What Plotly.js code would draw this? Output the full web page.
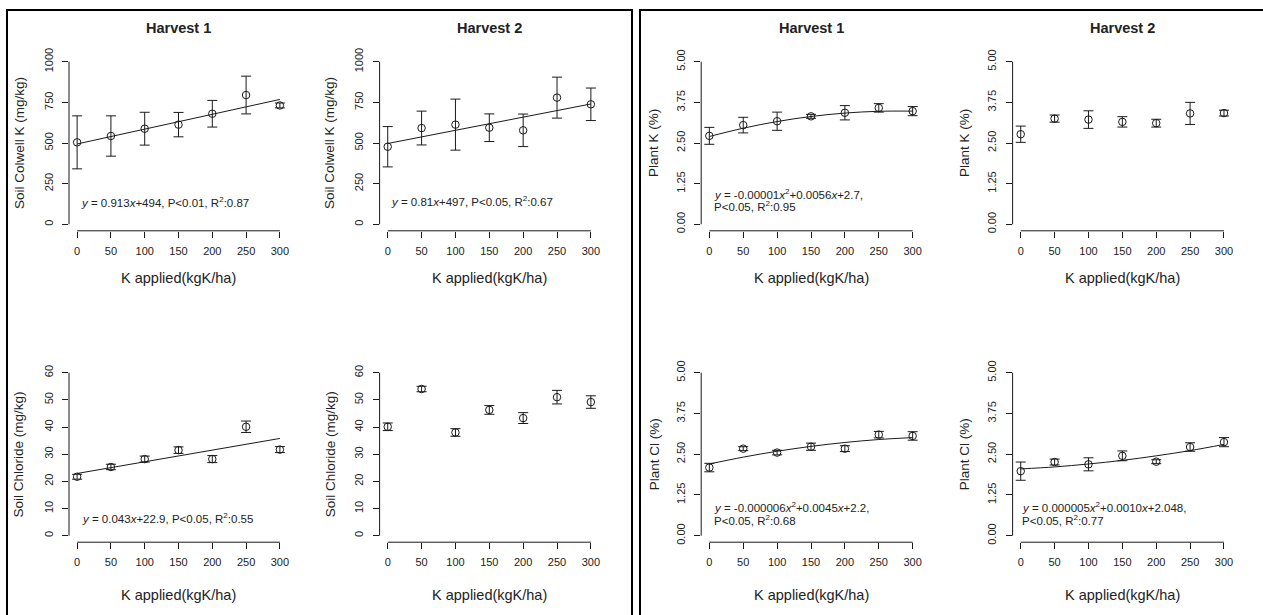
<!DOCTYPE html>
<html>
<head>
<meta charset="utf-8">
<script src="https://cdn.plot.ly/plotly-3.0.1.min.js"></script>
<style>html,body{margin:0;padding:0;background:#fff;}#chart{width:1263px;height:615px;}</style>
</head>
<body>
<div id="chart"></div>
<script>
// ---- data ----
var kApplied = [0, 50, 100, 150, 200, 250, 300];
var fitEnds = [0, 300];

var colwellH1 = [504, 543, 588, 613, 680, 795, 731];
var colwellH1Err = [163, 124, 101, 75, 82, 116, 15];
var colwellH2 = [477, 592, 613, 594, 578, 779, 738];
var colwellH2Err = [124, 104, 157, 85, 100, 126, 100];

var plantKH1 = [2.72, 3.05, 3.17, 3.32, 3.43, 3.58, 3.48];
var plantKH1Err = [0.26, 0.24, 0.28, 0.06, 0.22, 0.13, 0.14];
var plantKH2 = [2.77, 3.25, 3.22, 3.15, 3.11, 3.41, 3.42];
var plantKH2Err = [0.25, 0.11, 0.27, 0.16, 0.12, 0.34, 0.09];

var chlorideH1 = [21.7, 25.3, 28.2, 31.5, 28.2, 40.1, 31.7];
var chlorideH1Err = [0.9, 1.0, 1.1, 1.2, 1.3, 2.1, 1.1];
var chlorideH2 = [40.1, 54.0, 38.0, 46.3, 43.3, 51.0, 49.2];
var chlorideH2Err = [1.4, 1.0, 1.4, 1.6, 2.0, 2.5, 2.3];

var plantClH1 = [2.09, 2.67, 2.55, 2.73, 2.67, 3.10, 3.06];
var plantClH1Err = [0.13, 0.06, 0.07, 0.11, 0.09, 0.10, 0.13];
var plantClH2 = [1.98, 2.26, 2.19, 2.45, 2.27, 2.72, 2.87];
var plantClH2Err = [0.28, 0.09, 0.20, 0.15, 0.06, 0.13, 0.14];

// fitted lines as drawn in the picture
var fitColwellH1 = [494, 768];
var fitColwellH2 = [497, 740];
var fitChlorideH1 = [22.9, 35.8];
var fitPlantKH1 = [2.70, 2.955, 3.16, 3.315, 3.42, 3.475, 3.48];
var fitPlantClH1 = [2.20, 2.41, 2.59, 2.74, 2.86, 2.95, 3.01];
var fitPlantClH2 = [2.048, 2.11, 2.20, 2.31, 2.45, 2.61, 2.80];

var xTicks = [0, 50, 100, 150, 200, 250, 300];
var colwellTicks = [0, 250, 500, 750, 1000];
var pctTicks = [0, 1.25, 2.5, 3.75, 5];
var pctTickText = ["0.00", "1.25", "2.50", "3.75", "5.00"];
var chlorideTicks = [0, 10, 20, 30, 40, 50, 60];

var harvestTitles = ["Harvest 1", "Harvest 2", "Harvest 1", "Harvest 2"];
var yTitles = ["Soil Colwell K (mg/kg)", "Soil Colwell K (mg/kg)", "Plant K (%)", "Plant K (%)",
               "Soil Chloride (mg/kg)", "Soil Chloride (mg/kg)", "Plant Cl (%)", "Plant Cl (%)"];
var xTitle = "K applied(kgK/ha)";
var equations = [
  ["<i>y</i> = 0.913<i>x</i>+494, P<0.01, R<sup>2</sup>:0.87"],
  ["<i>y</i> = 0.81<i>x</i>+497, P<0.05, R<sup>2</sup>:0.67"],
  ["<i>y</i> = -0.00001<i>x</i><sup>2</sup>+0.0056<i>x</i>+2.7,", "P<0.05, R<sup>2</sup>:0.95"],
  [],
  ["<i>y</i> = 0.043<i>x</i>+22.9, P<0.05, R<sup>2</sup>:0.55"],
  [],
  ["<i>y</i> = -0.000006<i>x</i><sup>2</sup>+0.0045<i>x</i>+2.2,", "P<0.05, R<sup>2</sup>:0.68"],
  ["<i>y</i> = 0.000005<i>x</i><sup>2</sup>+0.0010<i>x</i>+2.048,", "P<0.05, R<sup>2</sup>:0.77"]
];

// ---- layout geometry (pixels) ----
var W = 1263, H = 615;
var FONT = "Liberation Sans, Arial, Helvetica, sans-serif";
var INK = "#1a1a1a";
var TXT = "#222222";
var colX = [[69, 288], [379.6, 599], [701.2, 920.8], [1012.6, 1232.1]];
var rowY = [[55.2, 230.8], [366.2, 542.2]];
var px = function (v) { return v / W; };
var py = function (v) { return 1 - v / H; };

var panels = [
  {y: colwellH1, e: colwellH1Err, fx: fitEnds, fy: fitColwellH1, ticks: colwellTicks, tt: null, max: 1000},
  {y: colwellH2, e: colwellH2Err, fx: fitEnds, fy: fitColwellH2, ticks: colwellTicks, tt: null, max: 1000},
  {y: plantKH1, e: plantKH1Err, fx: kApplied, fy: fitPlantKH1, ticks: pctTicks, tt: pctTickText, max: 5},
  {y: plantKH2, e: plantKH2Err, fx: null, fy: null, ticks: pctTicks, tt: pctTickText, max: 5},
  {y: chlorideH1, e: chlorideH1Err, fx: fitEnds, fy: fitChlorideH1, ticks: chlorideTicks, tt: null, max: 60},
  {y: chlorideH2, e: chlorideH2Err, fx: null, fy: null, ticks: chlorideTicks, tt: null, max: 60},
  {y: plantClH1, e: plantClH1Err, fx: kApplied, fy: fitPlantClH1, ticks: pctTicks, tt: pctTickText, max: 5},
  {y: plantClH2, e: plantClH2Err, fx: kApplied, fy: fitPlantClH2, ticks: pctTicks, tt: pctTickText, max: 5}
];

// equation positions: [left x px, [line centre y px]]
var eqPos = [
  [79, [201.7]], [389, [201]], [711.7, [194, 206]], null,
  [80, [518.3]], null, [711.7, [506.7, 520]], [1020, [506.7, 520]]
];
var yTitleX = [19, 329, 653, 964, 18.3, 330, 654, 964];

var data = [], shapes = [], annotations = [];
var layout = {
  width: W, height: H,
  margin: {l: 0, r: 0, t: 0, b: 0},
  paper_bgcolor: "#fff", plot_bgcolor: "rgba(0,0,0,0)",
  showlegend: false,
  font: {family: FONT, color: TXT, size: 11}
};

panels.forEach(function (p, i) {
  var s = i === 0 ? "" : String(i + 1);
  var col = i % 4, row = Math.floor(i / 4);
  var pad = p.max * 0.04;
  layout["xaxis" + s] = {
    domain: [px(colX[col][0]), px(colX[col][1])],
    anchor: "y" + s, range: [-12, 312],
    tickmode: "array", tickvals: xTicks,
    ticks: "outside", ticklen: 6, tickwidth: 1, tickcolor: INK,
    ticklabelstandoff: 4,
    showline: false, showgrid: false, zeroline: false, fixedrange: true,
    tickfont: {family: FONT, size: 11, color: TXT}
  };
  layout["yaxis" + s] = {
    domain: [py(rowY[row][1]), py(rowY[row][0])],
    anchor: "x" + s, range: [-pad, p.max + pad],
    tickmode: "array", tickvals: p.ticks, ticktext: p.tt || p.ticks.map(String),
    tickangle: -90,
    ticks: "outside", ticklen: 6, tickwidth: 1, tickcolor: INK,
    ticklabelstandoff: 5,
    showline: false, showgrid: false, zeroline: false, fixedrange: true,
    tickfont: {family: FONT, size: 11, color: TXT}
  };
  // R-style axis lines spanning the tick range
  shapes.push({type: "line", xref: "x" + s, yref: "y" + s + " domain", x0: 0, x1: 300, y0: 0, y1: 0,
               line: {color: INK, width: 1}});
  shapes.push({type: "line", xref: "x" + s + " domain", yref: "y" + s, x0: 0, x1: 0, y0: 0, y1: p.max,
               line: {color: INK, width: 1}});

  if (p.fy) {
    data.push({type: "scatter", mode: "lines", x: p.fx, y: p.fy, xaxis: "x" + s, yaxis: "y" + s,
               line: {color: INK, width: 1, shape: p.fx.length > 2 ? "spline" : "linear"}, hoverinfo: "skip"});
  }
  data.push({type: "scatter", mode: "markers", x: kApplied, y: p.y, xaxis: "x" + s, yaxis: "y" + s,
             marker: {symbol: "circle-open", size: 7.5, color: INK, line: {width: 1, color: INK}},
             error_y: {type: "data", array: p.e, visible: true, color: INK, thickness: 1, width: 5}});

  var cx = (colX[col][0] + colX[col][1]) / 2;
  var cy = (rowY[row][0] + rowY[row][1]) / 2;
  // x title
  annotations.push({xref: "paper", yref: "paper", x: px(cx), y: py(row === 0 ? 278 : 595),
                    xanchor: "center", yanchor: "middle", showarrow: false, text: xTitle,
                    font: {family: FONT, size: 14.5, color: TXT}});
  // y title
  annotations.push({xref: "paper", yref: "paper", x: px(yTitleX[i]), y: py(cy), textangle: -90,
                    xanchor: "center", yanchor: "middle", showarrow: false, text: yTitles[i],
                    font: {family: FONT, size: 13.5, color: TXT}});
  if (row === 0) {
    annotations.push({xref: "paper", yref: "paper", x: px(cx), y: py(28),
                      xanchor: "center", yanchor: "middle", showarrow: false,
                      text: "<b>" + harvestTitles[col] + "</b>",
                      font: {family: FONT, size: 14.5, color: TXT}});
  }
  if (eqPos[i]) {
    equations[i].forEach(function (t, k) {
      annotations.push({xref: "paper", yref: "paper", x: px(eqPos[i][0]), y: py(eqPos[i][1][k]),
                        xanchor: "left", yanchor: "middle", showarrow: false, text: t,
                        font: {family: FONT, size: 11.5, color: TXT}});
    });
  }
});

// outer boxes
shapes.push({type: "rect", xref: "paper", yref: "paper", x0: px(7), x1: px(632), y0: -0.2, y1: py(10),
             line: {color: "#000", width: 2}, fillcolor: "rgba(0,0,0,0)"});
shapes.push({type: "rect", xref: "paper", yref: "paper", x0: px(640), x1: 1.2, y0: -0.2, y1: py(10),
             line: {color: "#000", width: 2}, fillcolor: "rgba(0,0,0,0)"});

layout.shapes = shapes;
layout.annotations = annotations;

Plotly.newPlot("chart", data, layout, {displayModeBar: false, staticPlot: true});
</script>
</body>
</html>
